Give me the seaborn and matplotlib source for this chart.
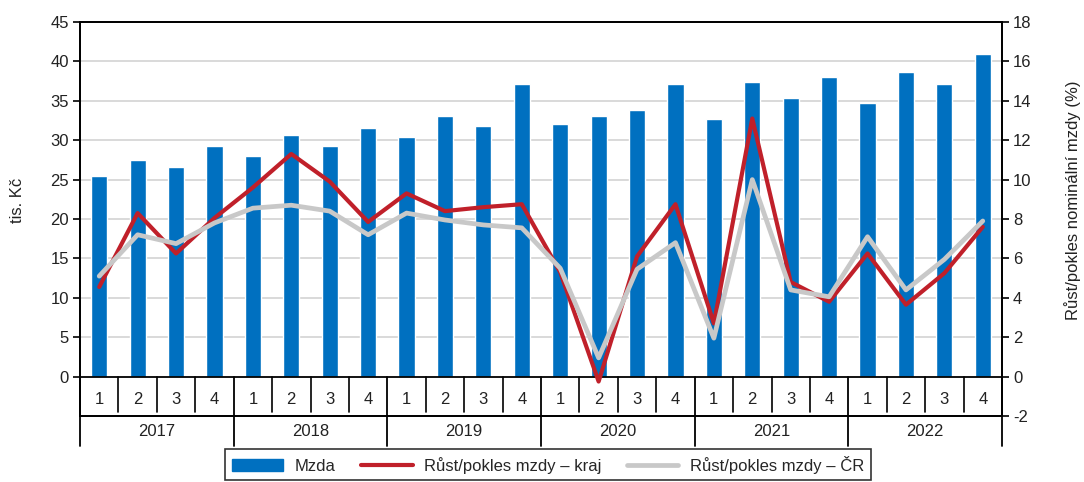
import numpy as np
import pandas as pd
import matplotlib
matplotlib.use("Agg")
import matplotlib.pyplot as plt
from matplotlib.patches import Patch
from matplotlib.lines import Line2D
import seaborn as sns

# =============================================================================
# DATA
# =============================================================================

years = ["2017", "2018", "2019", "2020", "2021", "2022"]
quarters = ["1", "2", "3", "4"]

# average wage, thousand CZK
mzda = [25.5, 27.5, 26.65, 29.3,
        27.95, 30.65, 29.3, 31.55,
        30.45, 33.1, 31.8, 37.15,
        32.0, 33.1, 33.8, 37.15,
        32.7, 37.4, 35.4, 38.05,
        34.7, 38.7, 37.15, 41.0]

# year-on-year growth of nominal wage (%), region
rust_kraj = [4.55, 8.3, 6.25, 8.05,
             9.6, 11.3, 9.9, 7.85,
             9.3, 8.4, 8.6, 8.75,
             5.3, -0.25, 6.1, 8.75,
             2.7, 13.1, 4.8, 3.8,
             6.25, 3.65, 5.25, 7.6]

# year-on-year growth of nominal wage (%), Czech Republic
rust_cr = [5.1, 7.2, 6.75, 7.8,
           8.55, 8.7, 8.4, 7.2,
           8.3, 7.95, 7.7, 7.55,
           5.5, 0.95, 5.45, 6.8,
           1.95, 10.0, 4.4, 4.05,
           7.1, 4.4, 5.95, 7.9]

legend_labels = ["Mzda", "Růst/pokles mzdy – kraj", "Růst/pokles mzdy – ČR"]

# =============================================================================
# STYLE
# =============================================================================

sns.set_theme(style="white")
plt.rcParams["font.family"] = ["Liberation Sans", "DejaVu Sans"]
plt.rcParams["axes.unicode_minus"] = False
fs = 12

blue = "#0070C0"
red = "#C0202A"
grey = "#C8C8C8"
txt = "#222222"

n = len(mzda)
pos = np.arange(n)
df = pd.DataFrame({
    "pos": pos,
    "mzda": mzda,
    "kraj": rust_kraj,
    "cr": rust_cr,
})

# =============================================================================
# PLOT
# =============================================================================

fig = plt.figure(figsize=(10.84, 4.82), dpi=100)
ax = fig.add_axes([80 / 1084, 1 - 416 / 482, 922 / 1084, 394 / 482])

for v in range(5, 45, 5):
    ax.axhline(v, color="#D3D3D3", linewidth=1.2, zorder=0)

sns.barplot(data=df, x="pos", y="mzda", color=blue, width=0.42,
            saturation=1, ax=ax, zorder=2)

ax.set_xlim(-0.5, n - 0.5)
ax.set_ylim(-5, 45)
ax.set_yticks(np.arange(0, 46, 5))
ax.set_xticks([])
ax.set_xlabel("")
ax.set_ylabel("")
ax.axhline(0, color="black", linewidth=1.3, zorder=3)

ax2 = ax.twinx()
sns.lineplot(data=df, x="pos", y="kraj", color=red, linewidth=3.0, ax=ax2, zorder=3)
sns.lineplot(data=df, x="pos", y="cr", color=grey, linewidth=3.4, ax=ax2, zorder=4)
ax2.set_ylim(-2, 18)
ax2.set_yticks(np.arange(-2, 19, 2))
ax2.set_xlabel("")
ax2.set_ylabel("")

for a in (ax, ax2):
    for sp in a.spines.values():
        sp.set_color("black")
        sp.set_linewidth(1.3)
    a.tick_params(axis="y", length=5, width=1.2, color="black",
                  labelsize=fs, labelcolor=txt, pad=3, direction="out")
ax.tick_params(axis="y", left=True, right=False)
ax2.tick_params(axis="y", left=False, right=True)

# category table under the zero line
trans = ax.get_xaxis_transform()
for i in range(n - 1):
    if (i + 1) % 4 == 0:
        continue
    x = i + 0.5
    ax.plot([x, x], [0, -4.5], color="black", linewidth=1.2, zorder=3)
for k in range(len(years) + 1):
    x = k * 4 - 0.5
    ax.plot([x, x], [0.1, -0.075], transform=trans, color="black",
            linewidth=1.3, clip_on=False, zorder=3)
for i in range(n):
    ax.text(i, -2.9, quarters[i % 4], ha="center", va="center",
            fontsize=fs, color=txt)
for k, yr in enumerate(years):
    ax.text(k * 4 + 1.5, -0.04, yr, transform=trans, ha="center",
            va="center", fontsize=fs, color=txt)

fig.text(17 / 1084, 1 - 200 / 482, "tis. Kč", rotation=90,
         ha="center", va="center", fontsize=fs, color=txt)
fig.text(1073 / 1084, 1 - 200 / 482, "Růst/pokles nominální mzdy (%)",
         rotation=90, ha="center", va="center", fontsize=fs, color=txt)

handles = [
    Patch(facecolor=blue, edgecolor=blue),
    Line2D([0], [0], color=red, linewidth=3.0),
    Line2D([0], [0], color=grey, linewidth=3.4),
]
leg = fig.legend(handles, legend_labels, loc="upper center",
                 bbox_to_anchor=(548 / 1084, 1 - 449 / 482), ncol=3,
                 frameon=True, fancybox=False, edgecolor="black",
                 handlelength=3.1, handleheight=0.75, columnspacing=1.5,
                 handletextpad=0.7, borderpad=0.4, fontsize=fs,
                 borderaxespad=0)
leg.get_frame().set_linewidth(1.2)

fig.savefig("out.png", dpi=100)
